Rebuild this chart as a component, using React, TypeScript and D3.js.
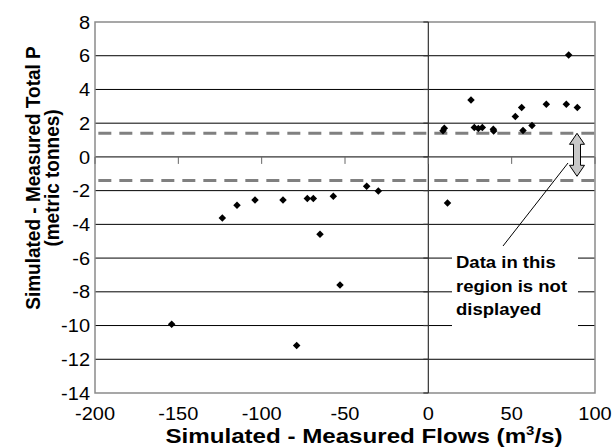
import * as d3 from "d3";

// chart size
const width = 616,
	height = 447;
const margin = { top: 22, right: 21, bottom: 54, left: 95 };

// tick values
const xTicks = [-200, -150, -100, -50, 0, 50, 100];
const yTicks = [8, 6, 4, 2, 0, -2, -4, -6, -8, -10, -12, -14];

const flowDiff = [
	-154, -123.6, -114.8, -104, -87.2, -79, -72.6, -69, -65, -57, -53, -37, -30,
	8.8, 9.6, 11.5, 25.6, 27.6, 30, 32.4, 39, 39.2, 52.2, 56, 56.8, 62.2, 70.8, 82.8, 84.2, 89.4,
];
const totalPDiff = [
	-9.93, -3.62, -2.87, -2.55, -2.55, -11.19, -2.47, -2.47, -4.59, -2.33, -7.6, -1.74, -2.02,
	1.55, 1.7, -2.73, 3.38, 1.74, 1.68, 1.74, 1.64, 1.54, 2.39, 2.93, 1.56, 1.86, 3.12, 3.12, 6.05, 2.93,
];

// limits of the region that is not displayed
const bandLimits = [1.4, -1.4];
const noteLines = ["Data in this", "region is not", "displayed"];

export default function App() {
	const x = d3
		.scaleLinear()
		.domain([-200, 100])
		.range([margin.left, width - margin.right]);
	const y = d3
		.scaleLinear()
		.domain([-14, 8])
		.range([height - margin.bottom, margin.top]);

	const font = "Liberation Sans, Arial, sans-serif";
	const points = flowDiff.map((v, i) => ({ fx: v, p: totalPDiff[i] }));
	const diamond = d3.symbol().type(d3.symbolDiamond2).size(36);

	// double arrow geometry
	const ax = 577,
		aTop = y(1.4),
		aBot = y(-1.15);
	const hw = 7.5,
		sw = 3.5,
		hl = 11;
	const arrow = [
		[ax, aTop],
		[ax + hw, aTop + hl],
		[ax + sw, aTop + hl],
		[ax + sw, aBot - hl],
		[ax + hw, aBot - hl],
		[ax, aBot],
		[ax - hw, aBot - hl],
		[ax - sw, aBot - hl],
		[ax - sw, aTop + hl],
		[ax - hw, aTop + hl],
	];

	return (
		<svg width={width} height={height} style={{ position: "absolute", left: 0, top: 0 }} fontFamily={font}>
			<rect width={width} height={height} fill="white" />
			{/* gridlines */}
			{yTicks.slice(1, -1).map((t) => (
				<line key={t} x1={x(-200)} x2={x(100)} y1={y(t)} y2={y(t)} stroke="black" strokeWidth={1} />
			))}
			{/* frame */}
			<rect
				x={x(-200)}
				y={y(8)}
				width={x(100) - x(-200)}
				height={y(-14) - y(8)}
				fill="none"
				stroke="#8a8a8a"
				strokeWidth={1.5}
			/>
			{/* dashed band limits */}
			{bandLimits.map((b) => (
				<line
					key={b}
					x1={x(-198)}
					x2={x(100)}
					y1={y(b)}
					y2={y(b)}
					stroke="#808080"
					strokeWidth={3}
					strokeDasharray="13,8"
				/>
			))}
			{/* zero axes */}
			<line x1={x(0)} x2={x(0)} y1={y(8)} y2={y(-14)} stroke="#333" strokeWidth={1.2} />
			{yTicks.map((t) => (
				<line key={t} x1={x(0) - 5} x2={x(0)} y1={y(t)} y2={y(t)} stroke="#333" strokeWidth={1.2} />
			))}
			{xTicks.map((t) => (
				<line key={t} x1={x(t)} x2={x(t)} y1={y(0)} y2={y(0) + 7} stroke="#666" strokeWidth={1} />
			))}
			{/* tick labels */}
			{yTicks.map((t) => (
				<text
					key={t}
					transform={`translate(${x(-200) - 5},${y(t)}) scale(1.08,1)`}
					dy="0.36em"
					textAnchor="end"
					fontSize={18.5}
				>
					{t}
				</text>
			))}
			{xTicks.map((t) => (
				<text
					key={t}
					transform={`translate(${x(t)},${y(-14) + 27}) scale(1.08,1)`}
					textAnchor="middle"
					fontSize={18.5}
				>
					{t}
				</text>
			))}
			{/* data */}
			{points.map((d, i) => (
				<path key={i} transform={`translate(${x(d.fx)},${y(d.p)})`} d={diamond()} fill="black" />
			))}
			{/* note */}
			<line x1={568} y1={163} x2={503} y2={246} stroke="black" strokeWidth={1} />
			<rect x={452} y={246} width={126} height={88} fill="white" />
			{noteLines.map((l, i) => (
				<text
					key={l}
					transform={`translate(456,${268 + i * 23.5}) scale(1.09,1)`}
					fontSize={17}
					fontWeight="bold"
				>
					{l}
				</text>
			))}
			<polygon points={arrow.map((p) => p.join(",")).join(" ")} fill="#c8c8c8" stroke="black" strokeWidth={1} />
			{/* axis titles */}
			<text transform="translate(364,443) scale(1.15,1)" textAnchor="middle" fontSize={21} fontWeight="bold">
				Simulated - Measured Flows (m<tspan dy={-8} fontSize={13}>3</tspan>
				<tspan dy={8}>/s)</tspan>
			</text>
			<g transform="translate(33,178) rotate(-90) scale(1,1.1)">
				<text x={0} y={6.5} textAnchor="middle" fontSize={19} fontWeight="bold">
					Simulated - Measured Total P
				</text>
				<text x={0} y={24} textAnchor="middle" fontSize={19} fontWeight="bold">
					(metric tonnes)
				</text>
			</g>
		</svg>
	);
}
